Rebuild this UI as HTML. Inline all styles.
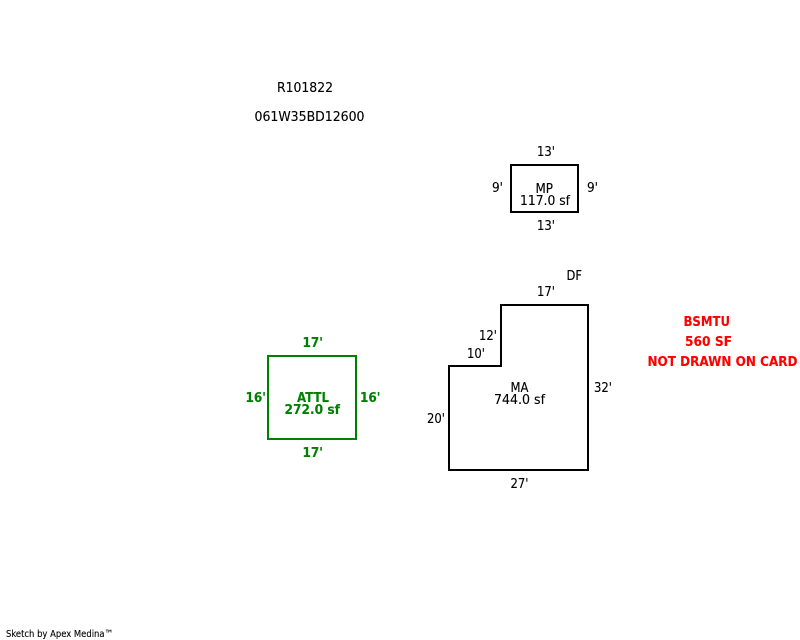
<!DOCTYPE html>
<html>
<head>
<meta charset="utf-8">
<style>
html,body{margin:0;padding:0;background:#fff;width:800px;height:640px;overflow:hidden}
svg{display:block}
text{font-family:"DejaVu Sans","Liberation Sans",sans-serif;font-size:13px;fill:#000;stroke:#000;stroke-width:.12px}
.g{fill:#008000;stroke:#008000;font-weight:bold;font-size:13px}
.r{fill:#ff0000;stroke:#ff0000;font-weight:bold;font-size:13px}
</style>
</head>
<body>
<svg width="800" height="640" viewBox="0 0 800 640" xmlns="http://www.w3.org/2000/svg">
<g fill="none" shape-rendering="crispEdges" stroke-width="2">
<rect x="511" y="165" width="67" height="47" stroke="#000"/>
<rect x="268" y="356" width="88" height="83" stroke="#008000"/>
<path d="M449 366H501V305H588V470H449Z" stroke="#000"/>
</g>
<g>
<text x="277" y="92" textLength="56" lengthAdjust="spacingAndGlyphs">R101822</text>
<text x="254.5" y="121" textLength="110" lengthAdjust="spacingAndGlyphs">061W35BD12600</text>

<text x="537" y="156" textLength="18" lengthAdjust="spacingAndGlyphs">13'</text>
<text x="492" y="192" textLength="11" lengthAdjust="spacingAndGlyphs">9'</text>
<text x="587" y="192" textLength="11" lengthAdjust="spacingAndGlyphs">9'</text>
<text x="535.5" y="193" textLength="17.5" lengthAdjust="spacingAndGlyphs">MP</text>
<text x="520" y="205" textLength="50" lengthAdjust="spacingAndGlyphs">117.0 sf</text>
<text x="537" y="230" textLength="18" lengthAdjust="spacingAndGlyphs">13'</text>

<text class="g" x="302.5" y="347" textLength="20.5" lengthAdjust="spacingAndGlyphs">17'</text>
<text class="g" x="245.5" y="402" textLength="20.5" lengthAdjust="spacingAndGlyphs">16'</text>
<text class="g" x="360" y="402" textLength="20.5" lengthAdjust="spacingAndGlyphs">16'</text>
<text class="g" x="297" y="402" textLength="32" lengthAdjust="spacingAndGlyphs">ATTL</text>
<text class="g" x="284.5" y="414" textLength="55.5" lengthAdjust="spacingAndGlyphs">272.0 sf</text>
<text class="g" x="302.5" y="457" textLength="20.5" lengthAdjust="spacingAndGlyphs">17'</text>

<text x="566.5" y="280" textLength="15.5" lengthAdjust="spacingAndGlyphs">DF</text>
<text x="537" y="296" textLength="18" lengthAdjust="spacingAndGlyphs">17'</text>
<text x="479" y="340" textLength="18" lengthAdjust="spacingAndGlyphs">12'</text>
<text x="467" y="358" textLength="18" lengthAdjust="spacingAndGlyphs">10'</text>
<text x="510.5" y="392" textLength="18" lengthAdjust="spacingAndGlyphs">MA</text>
<text x="494" y="404" textLength="51" lengthAdjust="spacingAndGlyphs">744.0 sf</text>
<text x="594" y="392" textLength="18" lengthAdjust="spacingAndGlyphs">32'</text>
<text x="427" y="423" textLength="18" lengthAdjust="spacingAndGlyphs">20'</text>
<text x="510.5" y="488" textLength="18" lengthAdjust="spacingAndGlyphs">27'</text>

<text class="r" x="683.5" y="326" textLength="46.5" lengthAdjust="spacingAndGlyphs">BSMTU</text>
<text class="r" x="685" y="346" textLength="47" lengthAdjust="spacingAndGlyphs">560 SF</text>
<text class="r" x="647.5" y="366" textLength="150" lengthAdjust="spacingAndGlyphs">NOT DRAWN ON CARD</text>

<text x="6" y="637" style="font-size:10px" textLength="107" lengthAdjust="spacingAndGlyphs">Sketch by Apex Medina™</text>
</g>
</svg>
</body>
</html>
